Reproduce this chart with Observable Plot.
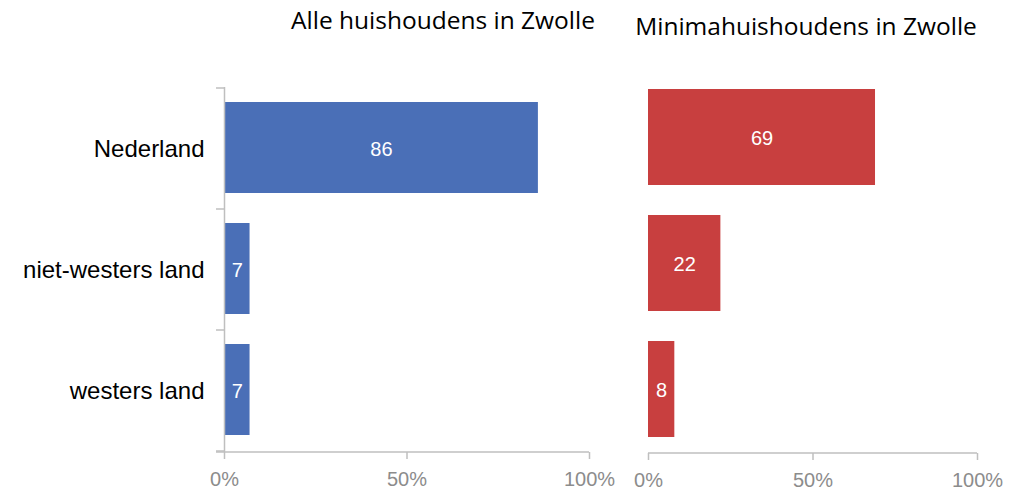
<!DOCTYPE html>
<html>
<head>
<meta charset="utf-8">
<script src="https://cdn.jsdelivr.net/npm/d3@7"></script>
<script src="https://cdn.jsdelivr.net/npm/@observablehq/plot@0.6"></script>
<style>
  html, body { margin: 0; padding: 0; background: #fff; }
  #wrap { position: relative; width: 1014px; height: 490px; overflow: hidden; }
  .panel { position: absolute; top: 0; }
  .title { position: absolute; font-family: "Open Sans", sans-serif; font-size: 24.5px; line-height: 24px; color: #000; white-space: nowrap; transform: translateX(-50%); }
</style>
</head>
<body>
<div id="wrap"></div>
<script>
const categories = ["Nederland", "niet-westers land", "westers land"];
const alleValues = [86, 7, 7];
const minimaValues = [69, 22, 8];
const xTicks = [0, 50, 100];
const titles = ["Alle huishoudens in Zwolle", "Minimahuishoudens in Zwolle"];

const blue = "#4A6FB7";
const red = "#C83F3F";
const axisGray = "#BFBFBF";
const labelGray = "#8C8C8C";

const alle = categories.map((c, i) => ({category: c, value: alleValues[i]}));
const minima = categories.map((c, i) => ({category: c, value: minimaValues[i]}));

const wrap = document.getElementById("wrap");

function xAxis() {
  return Plot.axisX({
    ticks: xTicks,
    tickFormat: d => d + "%",
    tickSize: 7,
    tickPadding: 12,
    stroke: axisGray,
    strokeWidth: 1.5,
    fill: labelGray,
    fontSize: 20,
    label: null,
    fontFamily: "Liberation Sans, Arial, sans-serif"
  });
}

function baseline(plot, extendLeft) {
  const xs = plot.scale("x");
  const ys = plot.scale("y");
  const yb = ys.range[1];
  d3.select(plot).append("line")
    .attr("x1", xs.apply(0) - extendLeft).attr("x2", xs.apply(100))
    .attr("y1", yb).attr("y2", yb)
    .attr("stroke", axisGray).attr("stroke-width", 1.5);
}

// Left panel
const left = Plot.plot({
  width: 630,
  height: 490,
  marginLeft: 224,
  marginRight: 41,
  marginTop: 87,
  marginBottom: 38,
  style: {fontFamily: "Liberation Sans, Arial, sans-serif", background: "transparent", overflow: "visible"},
  x: {domain: [0, 100]},
  y: {domain: categories, padding: 0},
  marks: [
    Plot.barX(alle, {x: "value", y: "category", fill: blue, insetTop: 14, insetBottom: 16}),
    Plot.text(alle, {x: d => d.value / 2, y: "category", text: d => String(d.value), fill: "white", fontSize: 20, dy: 1}),
    Plot.ruleX([0], {stroke: axisGray, strokeWidth: 1.5}),
    xAxis(),
    Plot.axisY({tickSize: 0, tickPadding: 20, fontSize: 24, fill: "#000", label: null}),
  ]
});
left.classList.add("panel");
left.style.left = "0px";
wrap.appendChild(left);

// boundary ticks on the left y axis + baseline
{
  const ys = left.scale("y");
  const xs = left.scale("x");
  const x0 = xs.apply(0);
  const bounds = categories.map(c => ys.apply(c));
  bounds.push(ys.apply(categories[categories.length - 1]) + ys.bandwidth);
  const svg = d3.select(left);
  svg.append("g").selectAll("line").data(bounds).join("line")
    .attr("x1", x0 - 8).attr("x2", x0)
    .attr("y1", d => d).attr("y2", d => d)
    .attr("stroke", axisGray).attr("stroke-width", 1.5);
  baseline(left, 8);
}

// Right panel
const right = Plot.plot({
  width: 394,
  height: 490,
  marginLeft: 28,
  marginRight: 37,
  marginTop: 73,
  marginBottom: 37,
  style: {fontFamily: "Liberation Sans, Arial, sans-serif", background: "transparent", overflow: "visible"},
  x: {domain: [0, 100]},
  y: {domain: categories, padding: 0, axis: null},
  marks: [
    Plot.barX(minima, {x: "value", y: "category", fill: red, insetTop: 15, insetBottom: 15}),
    Plot.text(minima, {x: d => d.value / 2, y: "category", text: d => String(d.value), fill: "white", fontSize: 20, dy: 1}),
    xAxis()
  ]
});
right.classList.add("panel");
right.style.left = "620px";
wrap.appendChild(right);
baseline(right, 0);

// Titles
const t1 = document.createElement("div");
t1.className = "title";
t1.textContent = titles[0];
t1.style.left = "443px";
t1.style.top = "8px";
wrap.appendChild(t1);

const t2 = document.createElement("div");
t2.className = "title";
t2.textContent = titles[1];
t2.style.left = "806px";
t2.style.top = "14px";
wrap.appendChild(t2);
</script>
</body>
</html>
